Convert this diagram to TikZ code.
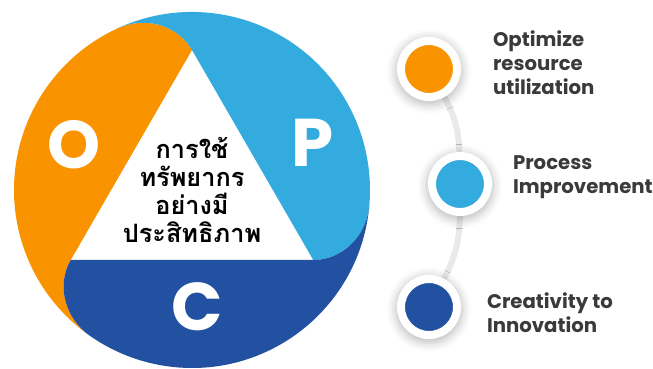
\documentclass[tikz,border=0pt]{standalone}
\usepackage{fontspec}
\setmainfont{Poppins}
\newfontfamily\thaifont[Script=Thai]{Loma}
\usetikzlibrary{calc,shadows.blur,backgrounds}
\definecolor{opcOrange}{HTML}{FA9300}
\definecolor{opcLight}{HTML}{33ABDE}
\definecolor{opcDark}{HTML}{2351A2}
\definecolor{trackGrey}{HTML}{E9E9EC}
\definecolor{labelGrey}{HTML}{3A3A3A}
\begin{document}
\begin{tikzpicture}[x=0.025cm,y=0.025cm,inner sep=0pt,outer sep=0pt,
dot/.style={circle,draw=white,line width=0.2cm,minimum size=1.4cm,
  blur shadow={shadow xshift=0pt,shadow yshift=-1.5pt,shadow blur radius=5pt,shadow opacity=25,shadow scale=1.2}},
caption/.style={anchor=west,align=left,font=\fontsize{14}{17}\selectfont\bfseries,text=labelGrey},
letter/.style={font=\fontsize{48}{48}\selectfont\bfseries,text=white},
track/.style={draw=trackGrey,line width=0.15cm}]
\useasboundingbox (0,0) rectangle (653,369);
% the OPC wheel
\begin{scope}[shift={(192,179)}]
\coordinate (vtop) at (90:140);
\coordinate (vleft) at (210:140);
\coordinate (vright) at (330:140);
\coordinate (etop) at (115:178);
\coordinate (eleft) at (235:178);
\coordinate (eright) at (-5:178);
\fill[opcOrange] (vtop) -- (vleft)
  .. controls ($(vleft)+(240:30)$) and ($(eleft)+(145:30)$) .. (eleft)
  arc[start angle=235,end angle=115,radius=178]
  .. controls ($(etop)+(25:30)$) and ($(vtop)+(120:30)$) .. (vtop) -- cycle;
\fill[opcLight] (vright) -- (vtop)
  .. controls ($(vtop)+(120:30)$) and ($(etop)+(25:30)$) .. (etop)
  arc[start angle=115,end angle=-5,radius=178]
  .. controls ($(eright)+(265:30)$) and ($(vright)+(0:30)$) .. (vright) -- cycle;
\fill[opcDark] (vleft) -- (vright)
  .. controls ($(vright)+(0:30)$) and ($(eright)+(265:30)$) .. (eright)
  arc[start angle=-5,end angle=-125,radius=178]
  .. controls ($(eleft)+(145:30)$) and ($(vleft)+(240:30)$) .. (vleft) -- cycle;
\node[letter] (o) at (-118,45) {O};
\node[letter] (p) at (121,47) {P};
\node[letter] (c) at (5,-117) {C};
\node[align=center,font=\thaifont\fontsize{18}{20}\selectfont\bfseries] (goal) at (0,0) {การใช้\\ทรัพยากร\\อย่างมี\\ประสิทธิภาพ};
\end{scope}
% timeline on the right
\node[dot,fill=opcOrange] (optim) at (429,300) {};
\node[dot,fill=opcLight] (proc) at (460,185) {};
\node[dot,fill=opcDark] (creat) at (429,62) {};
\begin{scope}[on background layer]
\draw[track] (optim) to[bend left=14] (proc);
\draw[track] (proc) to[bend left=14] (creat);
\end{scope}
\node[caption] (optimtext) at (493,306) {Optimize\\resource\\utilization};
\node[caption] (proctext) at (513,192) {Process\\Improvement};
\node[caption] (creattext) at (487,56) {Creativity to\\Innovation};
\end{tikzpicture}
\end{document}
